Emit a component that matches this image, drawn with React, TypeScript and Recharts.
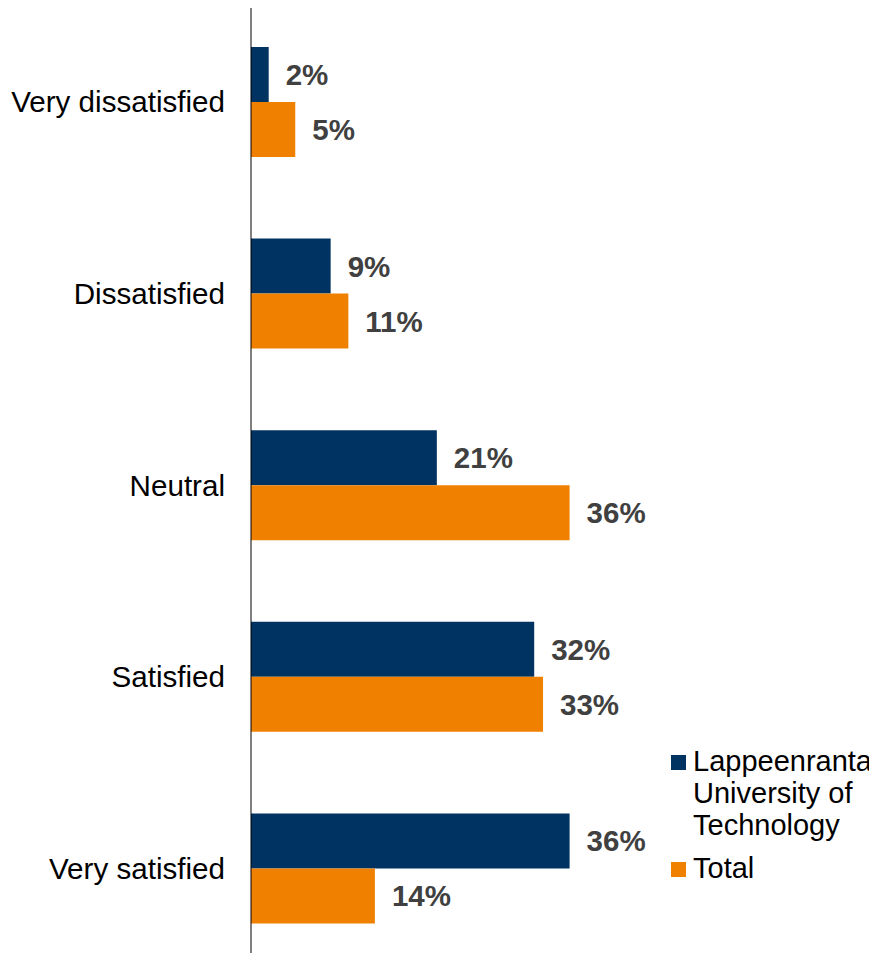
import { BarChart, Bar, XAxis, YAxis, Legend, LabelList } from "recharts";

const categories = [
  "Very dissatisfied",
  "Dissatisfied",
  "Neutral",
  "Satisfied",
  "Very satisfied",
];
const lutValues = [2, 9, 21, 32, 36];
const totalValues = [5, 11, 36, 33, 14];

const NAVY = "#003361";
const ORANGE = "#F08100";
const FONT = "Arial, 'Liberation Sans', sans-serif";

const data = categories.map((name, i) => ({
  name,
  lut: lutValues[i],
  total: totalValues[i],
}));

const legendItems = [
  { label: ["Lappeenranta", "University of", "Technology"], color: NAVY },
  { label: ["Total"], color: ORANGE },
];

function ChartLegend() {
  return (
    <div style={{ fontFamily: FONT, fontSize: 29, color: "#000", lineHeight: "32px" }}>
      {legendItems.map((item, i) => (
        <div key={i} style={{ display: "flex", alignItems: "flex-start", marginBottom: 11 }}>
          <span
            style={{
              display: "inline-block",
              width: 15,
              height: 15,
              background: item.color,
              marginTop: 10,
              marginRight: 7,
              flexShrink: 0,
            }}
          />
          <div style={{ whiteSpace: "nowrap" }}>
            {item.label.map((l) => (
              <div key={l}>{l}</div>
            ))}
          </div>
        </div>
      ))}
    </div>
  );
}

const fmt = (v: number) => `${v}%`;
const labelStyle = { fill: "#404040", fontSize: 29.5, fontWeight: "bold", fontFamily: FONT };

export default function App() {
  return (
    <div style={{ margin: -8, width: 877, height: 961, overflow: "hidden" }}>
      <BarChart
        width={877}
        height={964}
        data={data}
        layout="vertical"
        margin={{ top: 6, right: 272, bottom: 0, left: 0 }}
        barCategoryGap={41}
        barGap={0}
      >
        <XAxis type="number" hide domain={[0, 40]} />
        <YAxis
          type="category"
          dataKey="name"
          width={251}
          axisLine={{ stroke: "#000", strokeWidth: 1 }}
          tickLine={false}
          tickSize={0}
          tickMargin={26}
          tick={{ fill: "#000", fontSize: 29.6, fontFamily: FONT }}
        />
        <Legend
          layout="vertical"
          align="center"
          verticalAlign="middle"
          content={<ChartLegend />}
          wrapperStyle={{ left: 671, top: 745, width: 206 }}
        />
        <Bar dataKey="lut" fill={NAVY} isAnimationActive={false}>
          <LabelList dataKey="lut" position="right" offset={17} formatter={fmt} style={labelStyle} />
        </Bar>
        <Bar dataKey="total" fill={ORANGE} isAnimationActive={false}>
          <LabelList dataKey="total" position="right" offset={17} formatter={fmt} style={labelStyle} />
        </Bar>
      </BarChart>
    </div>
  );
}
